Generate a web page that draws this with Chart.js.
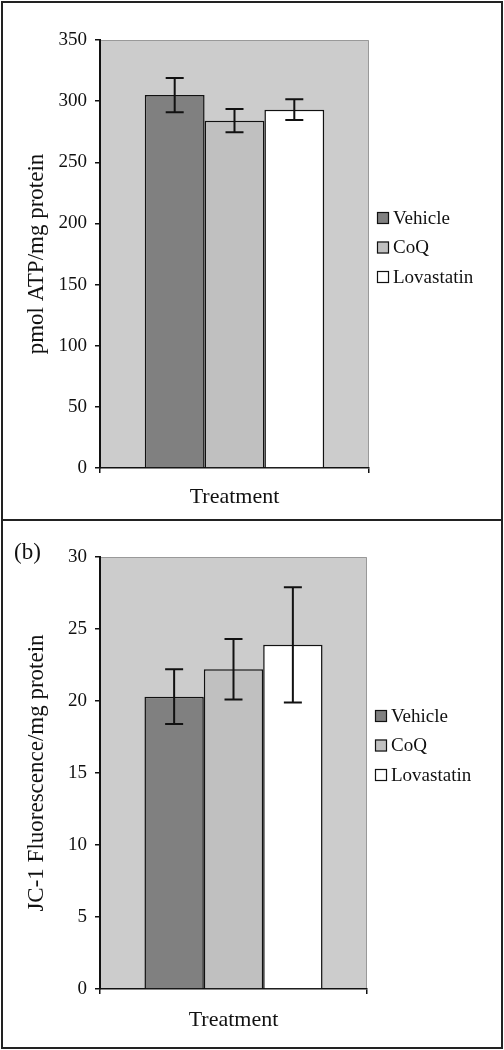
<!DOCTYPE html>
<html>
<head>
<meta charset="utf-8">
<script src="https://cdn.jsdelivr.net/npm/chart.js@4.4.1/dist/chart.umd.min.js"></script>
<style>
  body { margin: 0; background: #fff; font-family: "Liberation Serif", serif; }
  .panel { position: absolute; left: 1px; width: 502px; box-sizing: border-box; border: 2px solid #222; background: #fff; }
  #panelA { top: 1px; height: 520px; }
  #panelB { top: 519px; height: 530px; }
  .tag { position: absolute; left: 14px; top: 539px; font: 23px "Liberation Serif", serif; color: #111; line-height: 26px; }
</style>
</head>
<body>
<div class="panel" id="panelA"><canvas id="atpChart" width="498" height="516"></canvas></div>
<div class="panel" id="panelB"><canvas id="jcChart" width="498" height="526"></canvas></div>
<div class="tag">(b)</div>
<script>
// Data
var categories = ['Treatment'];
var seriesNames = ['Vehicle', 'CoQ', 'Lovastatin'];
var seriesColors = ['#808080', '#c0c0c0', '#ffffff'];

var atpMeans = [305, 284, 293];
var atpErrors = [14, 9.5, 8.5];
var atpTicks = { max: 350, step: 50 };

var jcMeans = [20.3, 22.2, 23.9];
var jcErrors = [1.9, 2.1, 4];
var jcTicks = { max: 30, step: 5 };

var serif = '"Liberation Serif", "Times New Roman", serif';

// grey plot background
var plotBackground = {
    id: 'plotBackground',
    beforeDraw: function (chart) {
        var a = chart.chartArea, ctx = chart.ctx;
        ctx.save();
        ctx.fillStyle = '#cccccc';
        ctx.fillRect(a.left, a.top, a.right - a.left, a.bottom - a.top);
        ctx.strokeStyle = '#999999';
        ctx.lineWidth = 1;
        ctx.beginPath();
        ctx.moveTo(a.left, a.top + 0.5);
        ctx.lineTo(a.right - 0.5, a.top + 0.5);
        ctx.lineTo(a.right - 0.5, a.bottom);
        ctx.stroke();
        ctx.restore();
    }
};

// error bars from dataset.errors
var errorBars = {
    id: 'errorBars',
    afterDatasetsDraw: function (chart) {
        var ctx = chart.ctx, y = chart.scales.y;
        ctx.save();
        ctx.strokeStyle = '#111';
        ctx.lineWidth = 2;
        chart.data.datasets.forEach(function (ds, i) {
            chart.getDatasetMeta(i).data.forEach(function (bar, j) {
                var v = ds.data[j], e = ds.errors[j];
                var top = y.getPixelForValue(v + e), bot = y.getPixelForValue(v - e);
                ctx.beginPath();
                ctx.moveTo(bar.x, top); ctx.lineTo(bar.x, bot);
                ctx.moveTo(bar.x - 9, top); ctx.lineTo(bar.x + 9, top);
                ctx.moveTo(bar.x - 9, bot); ctx.lineTo(bar.x + 9, bot);
                ctx.stroke();
            });
        });
        ctx.restore();
    }
};

// legend to the right of the plot
var sideLegend = {
    id: 'sideLegend',
    afterDraw: function (chart, args, opts) {
        var ctx = chart.ctx, x = chart.chartArea.right + 8;
        ctx.save();
        ctx.font = '19px ' + serif;
        ctx.textBaseline = 'middle';
        chart.data.datasets.forEach(function (ds, i) {
            var cy = opts.top + i * opts.gap;
            ctx.fillStyle = ds.backgroundColor;
            ctx.fillRect(x, cy - 6, 12, 12);
            ctx.strokeStyle = '#111';
            ctx.lineWidth = 1.2;
            ctx.strokeRect(x + 0.5, cy - 5.5, 11, 11);
            ctx.fillStyle = '#111';
            ctx.fillText(ds.label, x + 16, cy + 1);
        });
        ctx.restore();
    }
};

function makeChart(id, means, errors, ticks, yTitle, pad, legendTop) {
    var datasets = seriesNames.map(function (name, i) {
        return {
            label: name,
            data: [means[i]],
            errors: [errors[i]],
            backgroundColor: seriesColors[i],
            borderColor: '#111',
            borderWidth: 1.5,
            categoryPercentage: 0.667,
            barPercentage: 1.0
        };
    });
    return new Chart(document.getElementById(id), {
        type: 'bar',
        data: { labels: categories, datasets: datasets },
        plugins: [plotBackground, errorBars, sideLegend],
        options: {
            responsive: false,
            animation: false,
            layout: { padding: { left: 0, top: pad.top, right: pad.right, bottom: 0 } },
            plugins: {
                legend: { display: false },
                tooltip: { enabled: false },
                sideLegend: { top: legendTop, gap: 29.5 }
            },
            scales: {
                x: {
                    grid: { drawOnChartArea: false, drawTicks: true, tickLength: 5, color: '#111', lineWidth: 1.5 },
                    border: { display: true, color: '#111', width: 1.5 },
                    ticks: { color: '#111', font: { family: serif, size: 22 }, padding: pad.label },
                    afterFit: function (s) { s.height = pad.bottom; }
                },
                y: {
                    min: 0,
                    max: ticks.max,
                    grid: { drawOnChartArea: false, drawTicks: true, tickLength: 5, color: '#111', lineWidth: 1.5 },
                    border: { display: true, color: '#111', width: 2 },
                    ticks: { stepSize: ticks.step, color: '#111', font: { family: serif, size: 19 }, padding: 8 },
                    title: { display: true, text: yTitle, color: '#111', font: { family: serif, size: 23 }, padding: { top: 20, bottom: 0 } },
                    afterFit: function (s) { s.width = 97; }
                }
            }
        }
    });
}

makeChart('atpChart', atpMeans, atpErrors, atpTicks, 'pmol ATP/mg protein',
    { top: 37, right: 132, bottom: 51, label: 11 }, 215);
makeChart('jcChart', jcMeans, jcErrors, jcTicks, 'JC-1 Fluorescence/mg protein',
    { top: 36, right: 134, bottom: 58, label: 13 }, 195);
</script>
</body>
</html>
